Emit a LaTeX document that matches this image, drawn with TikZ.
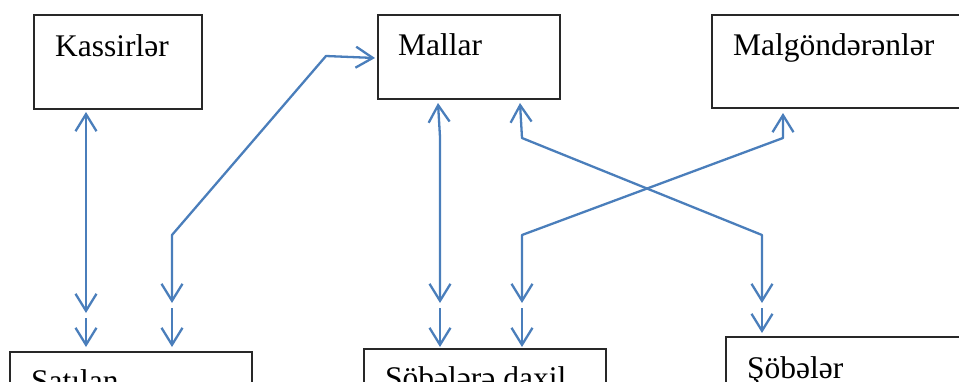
\documentclass[tikz,border=0pt]{standalone}
\usepackage{fontspec}
\setmainfont{Liberation Serif}
\usetikzlibrary{arrows.meta}
\definecolor{conn}{RGB}{74,126,187}
\definecolor{boxline}{RGB}{40,40,40}
\begin{document}
\begin{tikzpicture}[x=1pt,y=-1pt,
  box/.style={draw=boxline,line width=1.4pt,inner sep=0pt,outer sep=0pt,anchor=north west},
  lbl/.style={anchor=base west,inner sep=0pt,font=\fontsize{31.5}{36}\selectfont},
  conline/.style={draw=conn,line width=2.3pt,line join=round},
  tipb/.tip={Straight Barb[length=17pt,width=21pt]},
  one/.style={conline,-tipb},
  two/.style={conline,tipb-tipb}]
\useasboundingbox (0,0) rectangle (959,381);
\clip (0,0) rectangle (959,381);
% boxes
\node[box,minimum width=168pt,minimum height=94pt] (kas) at (34,15) {};
\node[box,minimum width=182pt,minimum height=84pt] (mal) at (378,15) {};
\node[box,minimum width=300pt,minimum height=93pt] (malg) at (712,15) {};
\node[box,minimum width=242pt,minimum height=120pt] (sat) at (10,352) {};
\node[box,minimum width=242pt,minimum height=120pt] (sobd) at (364,349) {};
\node[box,minimum width=300pt,minimum height=120pt] (sob) at (726,337) {};
% labels
\node[lbl] (tkas) at (55,56) {Kassirlər};
\node[lbl] (tmal) at (398,55) {Mallar};
\node[lbl] (tmalg) at (733,55) {Malgöndərənlər};
\node[lbl] (tsat) at (31,391) {Satılan};
\node[lbl] (tsobd) at (385,388) {Şöbələrə daxil};
\node[lbl] (tsob) at (747,378) {Şöbələr};
% junction coordinates
\coordinate (a1) at (86,313);  \coordinate (a2) at (86,318);
\coordinate (b1) at (172,303); \coordinate (b2) at (172,308);
\coordinate (c1) at (440,303); \coordinate (c2) at (440,308);
\coordinate (d1) at (522,303); \coordinate (d2) at (522,308);
\coordinate (e1) at (762,303); \coordinate (e2) at (762,308);
% Kassirler <-> Satilan
\draw[two] (a1) -- ([shift={(52,3)}]kas.south west);
\draw[one] (a2) -- ([shift={(76,-5)}]sat.north west);
% Satilan <-> Mallar
\draw[two] (b1) -- (172,235) -- (326,56) -- ([shift={(-3,43)}]mal.north west);
\draw[one] (b2) -- ([shift={(162,-5)}]sat.north west);
% Mallar <-> Sobelere daxil
\draw[two] (c1) -- (440,137) -- ([shift={(60,4)}]mal.south west);
\draw[one] (c2) -- ([shift={(76,-2)}]sobd.north west);
% Malgonderenler <-> Sobelere daxil
\draw[two] (d1) -- (522,235) -- (783,138) -- ([shift={(71,5)}]malg.south west);
\draw[one] (d2) -- ([shift={(158,-2)}]sobd.north west);
% Mallar <-> Sobeler
\draw[two] (e1) -- (762,235) -- (522,138) -- ([shift={(142,4)}]mal.south west);
\draw[one] (e2) -- ([shift={(36,-4)}]sob.north west);
\end{tikzpicture}
\end{document}
